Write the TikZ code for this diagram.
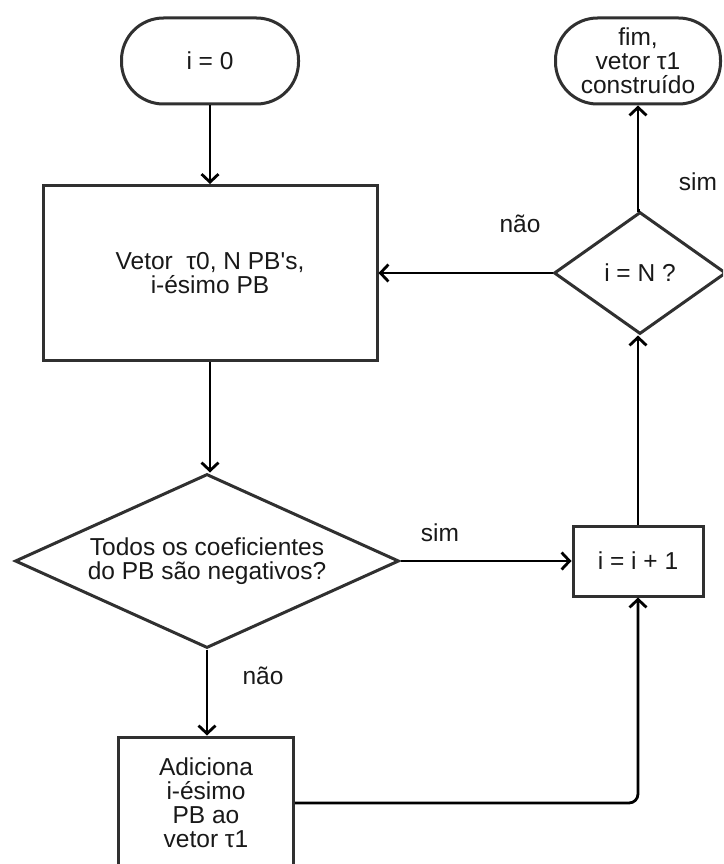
\documentclass[tikz,border=0pt]{standalone}
\usepackage{fontspec}
\setmainfont{Liberation Sans}
\usetikzlibrary{shapes.geometric,arrows.meta}
\definecolor{shapegray}{RGB}{48,48,48}
\definecolor{inkgray}{RGB}{25,25,25}
\begin{document}
\begin{tikzpicture}[x=1pt,y=-1pt,
  every node/.style={font=\fontsize{24.5}{24}\selectfont, text=inkgray},
  box/.style={draw=shapegray, line width=3pt, fill=white, align=center, inner sep=0pt},
  terminal/.style={box, rounded corners=42pt},
  decision/.style={box, diamond},
  flow/.style={draw=black, line width=2.8pt, -{Straight Barb[length=8pt,width=17pt]}},
]
\clip (0,0) rectangle (723,864);

% process steps
\node[terminal, minimum width=177pt, minimum height=86pt] (start) at (210,61) {i = 0};
\node[terminal, minimum width=165pt, minimum height=86pt] (fim) at (638,61) {fim,\\vetor τ1\\construído};
\node[box, minimum width=334pt, minimum height=175pt] (vetor) at (210,273) {Vetor\ \ τ0, N PB\textquotesingle s,\\ i-ésimo PB};
\node[decision, aspect=2.2, minimum width=384pt, minimum height=174pt] (todos) at (207,561) {Todos os coeficientes\\ do PB são negativos?};
\node[box, minimum width=130pt, minimum height=70pt] (incr) at (638,561) {i = i + 1};
\node[decision, aspect=1.41, minimum width=172pt, minimum height=122pt] (teste) at (640,273) {i = N ?};
\node[box, minimum width=175pt, minimum height=132pt] (adic) at (206,803) {Adiciona\\ i-ésimo\\ PB ao\\ vetor τ1};

% branch labels
\node (simA) at (440,533) {sim};
\node (naoA) at (263,676) {não};
\node (naoB) at (520,224) {não};
\node (simB) at (698,182) {sim};

% connectors
\draw[flow] (start.south) -- (start.south |- vetor.north);
\draw[flow] (vetor.south) -- (vetor.south |- todos.north);
\draw[flow] (todos.east) -- (incr.west);
\draw[flow] (todos.south) -- (todos.south |- adic.north);
\draw[flow, rounded corners=9pt] (adic.east) -- (adic.east -| incr.south) -- (incr.south);
\draw[flow] (incr.north) -- (incr.north |- teste.south);
\draw[flow] (teste.west) -- (vetor.east);
\draw[flow] (teste.north) -- (teste.north -| fim.south) -- (fim.south);
\end{tikzpicture}
\end{document}
